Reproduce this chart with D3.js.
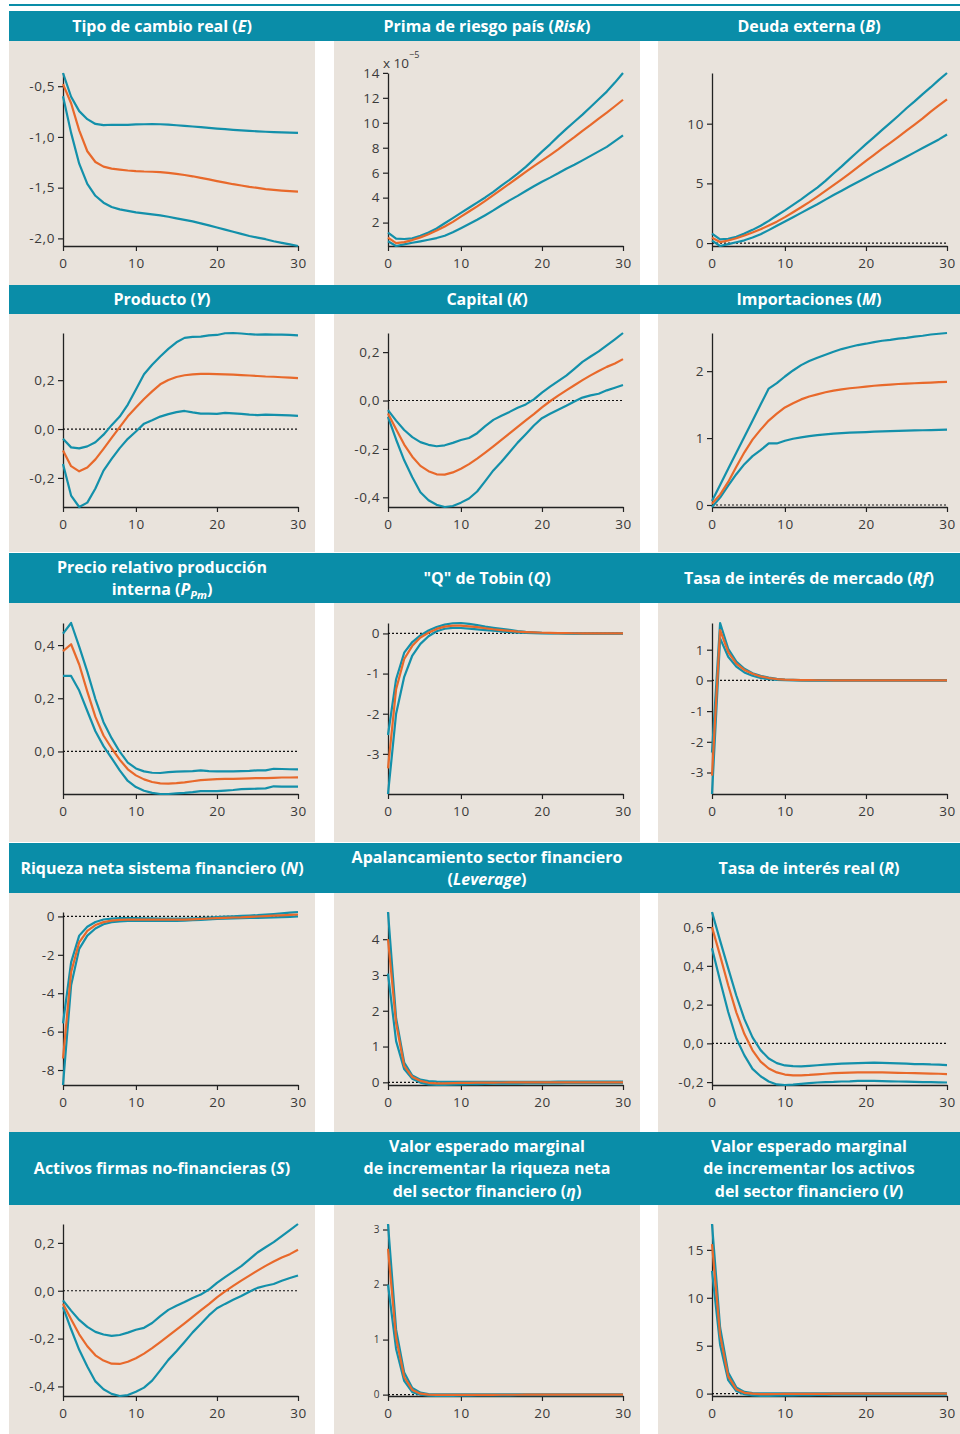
<!DOCTYPE html>
<html><head><meta charset="utf-8">
<script src="https://cdn.jsdelivr.net/npm/d3@7"></script>
<style>body{margin:0;background:#fff}svg{display:block}</style>
</head><body>
<svg id="chart" width="960" height="1434"></svg>
<script>
// Impulse responses for periods 1..30: lower band, median, upper band
const periods = d3.range(1, 31);
const xTicks = [1, 10, 20, 30];
const xTickLabels = ["0", "10", "20", "30"];

const E_hi = [-0.37,-0.604,-0.746,-0.825,-0.872,-0.884,-0.88,-0.882,-0.881,-0.877,-0.875,-0.874,-0.875,-0.879,-0.885,-0.891,-0.897,-0.904,-0.911,-0.918,-0.924,-0.93,-0.936,-0.941,-0.945,-0.949,-0.953,-0.956,-0.958,-0.96];
const E_mid = [-0.48,-0.668,-0.935,-1.141,-1.247,-1.293,-1.312,-1.322,-1.331,-1.337,-1.341,-1.343,-1.347,-1.354,-1.365,-1.375,-1.388,-1.404,-1.419,-1.435,-1.45,-1.466,-1.479,-1.492,-1.503,-1.514,-1.522,-1.529,-1.535,-1.54];
const E_lo = [-0.60,-0.96,-1.264,-1.462,-1.58,-1.648,-1.69,-1.714,-1.729,-1.743,-1.753,-1.764,-1.774,-1.787,-1.802,-1.818,-1.833,-1.852,-1.872,-1.893,-1.914,-1.934,-1.955,-1.976,-1.992,-2.008,-2.028,-2.044,-2.059,-2.075];
const E_ticks = [-2, -1.5, -1, -0.5];

const Risk_hi = [1.2,0.72,0.683,0.738,0.935,1.2,1.53,1.946,2.358,2.774,3.186,3.598,4.014,4.47,4.966,5.43,5.92,6.469,7.066,7.69,8.274,8.91,9.51,10.08,10.65,11.26,11.88,12.5,13.22,13.99];
const Risk_mid = [0.8,0.352,0.431,0.6,0.814,1.068,1.36,1.684,2.058,2.474,2.886,3.298,3.735,4.198,4.666,5.13,5.593,6.061,6.525,6.96,7.406,7.87,8.375,8.851,9.36,9.833,10.34,10.814,11.325,11.845];
const Risk_lo = [0.5,0.124,0.258,0.381,0.497,0.622,0.76,0.945,1.231,1.552,1.889,2.23,2.594,2.976,3.392,3.779,4.139,4.532,4.914,5.278,5.604,5.949,6.313,6.634,6.987,7.348,7.708,8.072,8.528,8.996];
const Risk_ticks = [2, 4, 6, 8, 10, 12, 14];

const B_hi = [0.8,0.302,0.36,0.525,0.792,1.106,1.454,1.858,2.308,2.74,3.203,3.667,4.155,4.648,5.212,5.83,6.424,7.048,7.666,8.29,8.874,9.476,10.063,10.668,11.292,11.868,12.478,13.056,13.67,14.245];
const B_mid = [0.45,0.084,0.213,0.402,0.635,0.893,1.16,1.472,1.795,2.174,2.586,2.998,3.435,3.898,4.366,4.855,5.343,5.84,6.355,6.875,7.39,7.905,8.388,8.89,9.41,9.925,10.44,11.006,11.525,12.045];
const B_lo = [0.2,-0.245,-0.09,0.065,0.231,0.463,0.736,1.084,1.445,1.809,2.169,2.53,2.894,3.254,3.642,4.029,4.389,4.753,5.114,5.478,5.838,6.163,6.513,6.873,7.237,7.598,7.958,8.322,8.683,9.096];
const B_ticks = [0, 5, 10];

const Y_hi = [-0.04,-0.075,-0.079,-0.071,-0.054,-0.023,0.016,0.051,0.1,0.162,0.224,0.263,0.297,0.328,0.355,0.373,0.377,0.378,0.383,0.385,0.392,0.393,0.391,0.388,0.386,0.387,0.386,0.386,0.385,0.383];
const Y_mid = [-0.088,-0.152,-0.173,-0.157,-0.124,-0.081,-0.036,0.008,0.052,0.088,0.123,0.154,0.183,0.201,0.213,0.22,0.224,0.226,0.226,0.225,0.224,0.223,0.221,0.219,0.217,0.215,0.214,0.212,0.21,0.208];
const Y_lo = [-0.143,-0.272,-0.319,-0.301,-0.243,-0.17,-0.122,-0.078,-0.04,-0.01,0.022,0.036,0.051,0.061,0.069,0.074,0.068,0.063,0.063,0.062,0.066,0.064,0.062,0.059,0.057,0.059,0.058,0.057,0.056,0.054];
const Y_ticks = [-0.2, 0, 0.2];

const K_hi = [-0.04,-0.083,-0.122,-0.151,-0.172,-0.183,-0.189,-0.185,-0.175,-0.163,-0.155,-0.135,-0.106,-0.08,-0.063,-0.047,-0.03,-0.016,0.005,0.033,0.057,0.08,0.103,0.131,0.16,0.182,0.203,0.228,0.253,0.279];
const K_mid = [-0.054,-0.119,-0.182,-0.232,-0.27,-0.292,-0.305,-0.306,-0.297,-0.282,-0.263,-0.24,-0.215,-0.189,-0.163,-0.136,-0.109,-0.082,-0.056,-0.028,-0.003,0.02,0.042,0.063,0.084,0.104,0.122,0.139,0.153,0.171];
const K_lo = [-0.068,-0.161,-0.247,-0.317,-0.379,-0.412,-0.431,-0.44,-0.436,-0.422,-0.405,-0.376,-0.333,-0.289,-0.253,-0.214,-0.174,-0.139,-0.103,-0.073,-0.055,-0.038,-0.022,-0.004,0.012,0.021,0.028,0.042,0.053,0.064];
const K_ticks = [-0.4, -0.2, 0, 0.2];

const M_hi = [0.06,0.30,0.54,0.78,1.02,1.26,1.5,1.74,1.82,1.92,2.01,2.09,2.15,2.2,2.245,2.29,2.33,2.36,2.39,2.41,2.434,2.454,2.468,2.486,2.498,2.517,2.529,2.548,2.559,2.57];
const M_mid = [0.02,0.155,0.345,0.571,0.787,0.976,1.126,1.261,1.364,1.458,1.52,1.578,1.622,1.653,1.684,1.71,1.728,1.744,1.756,1.77,1.782,1.792,1.799,1.808,1.814,1.819,1.824,1.829,1.835,1.84];
const M_lo = [-0.03,0.11,0.29,0.46,0.61,0.73,0.82,0.92,0.92,0.96,0.99,1.01,1.03,1.045,1.055,1.065,1.075,1.08,1.085,1.09,1.095,1.1,1.105,1.108,1.11,1.114,1.117,1.12,1.122,1.125];
const M_ticks = [0, 1, 2];

const P_hi = [0.443,0.483,0.394,0.3,0.197,0.11,0.05,-0.001,-0.042,-0.064,-0.075,-0.08,-0.081,-0.078,-0.076,-0.075,-0.074,-0.071,-0.074,-0.075,-0.075,-0.075,-0.074,-0.073,-0.071,-0.071,-0.065,-0.066,-0.067,-0.0675];
const P_mid = [0.3775,0.403,0.327,0.225,0.13,0.06,0.012,-0.031,-0.067,-0.09,-0.105,-0.115,-0.12,-0.121,-0.119,-0.116,-0.112,-0.108,-0.106,-0.104,-0.103,-0.103,-0.102,-0.101,-0.1,-0.1,-0.099,-0.098,-0.098,-0.0975];
const P_lo = [0.284,0.284,0.229,0.152,0.076,0.02,-0.025,-0.071,-0.111,-0.134,-0.148,-0.156,-0.16,-0.16,-0.158,-0.156,-0.153,-0.149,-0.149,-0.149,-0.147,-0.145,-0.142,-0.141,-0.14,-0.139,-0.131,-0.132,-0.1325,-0.1325];
const P_ticks = [0, 0.2, 0.4];

const Q_hi = [-2.53,-1.14,-0.48,-0.214,-0.049,0.074,0.162,0.22,0.254,0.26,0.24,0.205,0.168,0.139,0.113,0.087,0.061,0.04,0.025,0.012,0.009,0.007,0.005,0.004,0.003,0.003,0.002,0.002,0.002,0.002];
const Q_mid = [-3.36,-1.39,-0.637,-0.309,-0.103,0.017,0.113,0.171,0.193,0.194,0.175,0.156,0.13,0.104,0.083,0.065,0.047,0.034,0.024,0.017,0.012,0.009,0.007,0.005,0.004,0.003,0.002,0.002,0.001,0.001];
const Q_lo = [-4.0,-2.0,-1.08,-0.55,-0.26,-0.07,0.054,0.117,0.14,0.135,0.12,0.102,0.084,0.068,0.05,0.032,0.02,0.012,0.007,0.002,-0.001,-0.002,-0.003,-0.003,-0.003,-0.003,-0.003,-0.003,-0.003,-0.003];
const Q_ticks = [-3, -2, -1, 0];

const Rf_hi = [-2.35,1.87,1.03,0.61,0.38,0.235,0.148,0.089,0.048,0.027,0.018,0.013,0.011,0.01,0.01,0.01,0.01,0.01,0.01,0.01,0.01,0.01,0.01,0.01,0.01,0.01,0.01,0.01,0.01,0.01];
const Rf_mid = [-3.1,1.64,0.924,0.549,0.342,0.215,0.129,0.077,0.045,0.027,0.017,0.01,0.007,0.006,0.005,0.004,0.004,0.003,0.003,0.003,0.003,0.003,0.003,0.003,0.003,0.003,0.003,0.003,0.003,0.003];
const Rf_lo = [-3.7,1.37,0.77,0.45,0.26,0.15,0.08,0.039,0.017,0.007,-0.002,-0.006,-0.008,-0.008,-0.008,-0.008,-0.008,-0.008,-0.008,-0.008,-0.008,-0.008,-0.008,-0.008,-0.008,-0.008,-0.008,-0.008,-0.008,-0.008];
const Rf_ticks = [-3, -2, -1, 0, 1];

const N_hi = [-5.57,-2.39,-1.0,-0.535,-0.29,-0.16,-0.114,-0.09,-0.09,-0.093,-0.1,-0.104,-0.11,-0.11,-0.115,-0.115,-0.105,-0.088,-0.062,-0.037,-0.016,0.004,0.025,0.046,0.066,0.096,0.126,0.158,0.198,0.23];
const N_mid = [-7.4,-2.91,-1.35,-0.75,-0.45,-0.296,-0.222,-0.185,-0.17,-0.17,-0.17,-0.17,-0.17,-0.17,-0.17,-0.165,-0.149,-0.128,-0.108,-0.093,-0.076,-0.056,-0.048,-0.024,-0.004,0.017,0.038,0.058,0.079,0.1];
const N_lo = [-8.78,-3.59,-1.69,-1.0,-0.63,-0.41,-0.3,-0.255,-0.237,-0.23,-0.23,-0.23,-0.23,-0.23,-0.23,-0.22,-0.199,-0.178,-0.152,-0.127,-0.113,-0.103,-0.093,-0.082,-0.072,-0.062,-0.051,-0.032,-0.021,0.0];
const N_ticks = [-8, -6, -4, -2, 0];

const Lev_hi = [4.76,1.79,0.553,0.188,0.074,0.037,0.019,0.015,0.012,0.01,0.01,0.01,0.01,0.011,0.012,0.012,0.013,0.014,0.015,0.015,0.016,0.017,0.017,0.018,0.018,0.019,0.019,0.02,0.02,0.02];
const Lev_mid = [4.0,1.65,0.458,0.149,0.042,-0.013,-0.03,-0.029,-0.024,-0.018,-0.013,-0.009,-0.007,-0.006,-0.005,-0.004,-0.003,-0.002,-0.002,-0.001,0.0,0.0,0.0,0.0,0.0,0.0,0.0,0.0,0.0,0.0];
const Lev_lo = [3.04,1.15,0.37,0.099,-0.008,-0.058,-0.075,-0.073,-0.064,-0.058,-0.053,-0.048,-0.043,-0.04,-0.04,-0.037,-0.035,-0.032,-0.03,-0.03,-0.029,-0.027,-0.025,-0.024,-0.023,-0.022,-0.021,-0.02,-0.02,-0.02];
const Lev_ticks = [0, 1, 2, 3, 4];

const R_hi = [0.678,0.53,0.387,0.247,0.125,0.031,-0.035,-0.078,-0.102,-0.114,-0.118,-0.119,-0.116,-0.113,-0.11,-0.107,-0.105,-0.103,-0.102,-0.101,-0.1,-0.101,-0.102,-0.103,-0.105,-0.107,-0.107,-0.109,-0.11,-0.112];
const R_mid = [0.6,0.453,0.3,0.16,0.048,-0.036,-0.094,-0.13,-0.15,-0.161,-0.165,-0.165,-0.163,-0.16,-0.157,-0.154,-0.152,-0.151,-0.15,-0.15,-0.15,-0.15,-0.151,-0.152,-0.153,-0.154,-0.155,-0.156,-0.157,-0.159];
const R_lo = [0.491,0.323,0.162,0.025,-0.062,-0.132,-0.17,-0.197,-0.212,-0.215,-0.213,-0.209,-0.205,-0.202,-0.2,-0.199,-0.197,-0.196,-0.194,-0.193,-0.194,-0.195,-0.196,-0.197,-0.198,-0.199,-0.2,-0.2,-0.201,-0.202];
const R_ticks = [-0.2, 0, 0.2, 0.4, 0.6];

const S_hi = [-0.04,-0.083,-0.122,-0.151,-0.172,-0.183,-0.189,-0.185,-0.175,-0.163,-0.155,-0.135,-0.106,-0.08,-0.063,-0.047,-0.03,-0.016,0.005,0.033,0.057,0.08,0.103,0.131,0.16,0.182,0.203,0.228,0.253,0.279];
const S_mid = [-0.054,-0.119,-0.182,-0.232,-0.27,-0.292,-0.305,-0.306,-0.297,-0.282,-0.263,-0.24,-0.215,-0.189,-0.163,-0.136,-0.109,-0.082,-0.056,-0.028,-0.003,0.02,0.042,0.063,0.084,0.104,0.122,0.139,0.153,0.171];
const S_lo = [-0.068,-0.161,-0.247,-0.317,-0.379,-0.412,-0.431,-0.44,-0.436,-0.422,-0.405,-0.376,-0.333,-0.289,-0.253,-0.214,-0.174,-0.139,-0.103,-0.073,-0.055,-0.038,-0.022,-0.004,0.012,0.021,0.028,0.042,0.053,0.064];
const S_ticks = [-0.4, -0.2, 0, 0.2];

const Eta_hi = [3.1,1.18,0.4,0.12,0.035,0.01,0.005,0.005,0.005,0.005,0.005,0.005,0.005,0.005,0.005,0.005,0.005,0.005,0.005,0.005,0.005,0.005,0.005,0.005,0.005,0.005,0.005,0.005,0.005,0.005];
const Eta_mid = [2.65,1.03,0.32,0.085,0.018,0.0,-0.005,-0.005,-0.005,-0.005,-0.004,-0.004,-0.003,-0.003,-0.002,-0.002,-0.002,-0.001,-0.001,0.0,0.0,0.0,0.0,0.0,0.0,0.0,0.0,0.0,0.0,0.0];
const Eta_lo = [2.0,0.83,0.25,0.045,-0.002,-0.02,-0.025,-0.025,-0.022,-0.02,-0.018,-0.016,-0.015,-0.014,-0.013,-0.012,-0.011,-0.01,-0.01,-0.01,-0.01,-0.01,-0.01,-0.01,-0.01,-0.01,-0.01,-0.01,-0.01,-0.01];
const Eta_ticks = [0, 1, 2, 3];

const V_hi = [17.7,6.9,2.2,0.65,0.18,0.06,0.03,0.02,0.02,0.02,0.02,0.02,0.02,0.02,0.02,0.02,0.02,0.02,0.02,0.02,0.02,0.02,0.02,0.02,0.02,0.02,0.02,0.02,0.02,0.02];
const V_mid = [15.6,6.1,1.8,0.46,0.08,-0.01,-0.05,-0.05,-0.04,-0.03,-0.03,-0.02,-0.02,-0.02,-0.02,-0.01,-0.01,-0.01,-0.01,0.0,0.0,0.0,0.0,0.0,0.0,0.0,0.0,0.0,0.0,0.0];
const V_lo = [12.8,5.1,1.4,0.27,-0.07,-0.2,-0.25,-0.25,-0.22,-0.2,-0.18,-0.16,-0.15,-0.14,-0.13,-0.12,-0.11,-0.1,-0.1,-0.1,-0.1,-0.1,-0.1,-0.1,-0.1,-0.1,-0.1,-0.1,-0.1,-0.1];
const V_ticks = [0, 5, 10, 15];

// Panel titles: *...* italic, _..._ subscript; one string per line
const panels = [
  { title: ["Tipo de cambio real (*E*)"], hi: E_hi, mid: E_mid, lo: E_lo, ticks: E_ticks, fmt: ".1f" },
  { title: ["Prima de riesgo país (*Risk*)"], hi: Risk_hi, mid: Risk_mid, lo: Risk_lo, ticks: Risk_ticks, fmt: "d", scaleNote: true },
  { title: ["Deuda externa (*B*)"], hi: B_hi, mid: B_mid, lo: B_lo, ticks: B_ticks, fmt: "d" },
  { title: ["Producto (*Y*)"], hi: Y_hi, mid: Y_mid, lo: Y_lo, ticks: Y_ticks, fmt: ".1f" },
  { title: ["Capital (*K*)"], hi: K_hi, mid: K_mid, lo: K_lo, ticks: K_ticks, fmt: ".1f" },
  { title: ["Importaciones (*M*)"], hi: M_hi, mid: M_mid, lo: M_lo, ticks: M_ticks, fmt: "d" },
  { title: ["Precio relativo producción", "interna (*P_Pm_*)"], hi: P_hi, mid: P_mid, lo: P_lo, ticks: P_ticks, fmt: ".1f" },
  { title: ["\"Q\" de Tobin (*Q*)"], hi: Q_hi, mid: Q_mid, lo: Q_lo, ticks: Q_ticks, fmt: "d" },
  { title: ["Tasa de interés de mercado (*Rf*)"], hi: Rf_hi, mid: Rf_mid, lo: Rf_lo, ticks: Rf_ticks, fmt: "d" },
  { title: ["Riqueza neta sistema financiero (*N*)"], hi: N_hi, mid: N_mid, lo: N_lo, ticks: N_ticks, fmt: "d" },
  { title: ["Apalancamiento sector financiero", "(*Leverage*)"], hi: Lev_hi, mid: Lev_mid, lo: Lev_lo, ticks: Lev_ticks, fmt: "d" },
  { title: ["Tasa de interés real (*R*)"], hi: R_hi, mid: R_mid, lo: R_lo, ticks: R_ticks, fmt: ".1f" },
  { title: ["Activos firmas no-financieras (*S*)"], hi: S_hi, mid: S_mid, lo: S_lo, ticks: S_ticks, fmt: ".1f" },
  { title: ["Valor esperado marginal", "de incrementar la riqueza neta", "del sector financiero (*η*)"], hi: Eta_hi, mid: Eta_mid, lo: Eta_lo, ticks: Eta_ticks, fmt: "d", smallTicks: true },
  { title: ["Valor esperado marginal", "de incrementar los activos", "del sector financiero (*V*)"], hi: V_hi, mid: V_mid, lo: V_lo, ticks: V_ticks, fmt: "d" }
];

// Page geometry
const TEAL = "#0a8da8", LINE_TEAL = "#1390aa", ORANGE = "#e8692b", BEIGE = "#e9e3dc";
const cols = [ { l: 9, r: 315 }, { l: 334, r: 640 }, { l: 658, r: 960 } ];
const rows = [
  { hT: 11, hB: 41, pB: 285, aT: 73, aB: 246 },
  { hT: 285, hB: 314, pB: 552, aT: 333, aB: 507 },
  { hT: 553, hB: 603, pB: 842, aT: 623, aB: 794 },
  { hT: 843, hB: 893, pB: 1132, aT: 912, aB: 1085 },
  { hT: 1132, hB: 1205, pB: 1434, aT: 1224, aB: 1396 }
];
const AX_OFF = 54, AX_W = 235;
const FONT = "'Open Sans', sans-serif";

const locale = d3.formatLocale({ decimal: ",", thousands: ".", grouping: [3], currency: ["", ""], minus: "-" });

const svg = d3.select("#chart");
svg.append("rect").attr("x", 9).attr("y", 4).attr("width", 951).attr("height", 2).attr("fill", TEAL);

function addTitle(g, lines, cx, cy) {
  const lh = 22.5, n = lines.length;
  lines.forEach((line, i) => {
    const t = g.append("text")
      .attr("x", cx).attr("y", cy + (i - (n - 1) / 2) * lh)
      .attr("dy", "0.36em").attr("text-anchor", "middle")
      .attr("fill", "#fff").attr("font-family", FONT)
      .attr("font-weight", 700).attr("font-size", 16);
    let italic = false, sub = false, buf = "", shifted = 0;
    const flush = () => {
      if (!buf) return;
      const ts = t.append("tspan").text(buf);
      if (italic) ts.attr("font-style", "italic");
      if (sub && shifted === 0) { ts.attr("font-size", 11).attr("dy", 4); shifted = 4; }
      else if (sub) ts.attr("font-size", 11);
      else if (shifted) { ts.attr("dy", -shifted); shifted = 0; }
      buf = "";
    };
    for (const ch of line) {
      if (ch === "*") { flush(); italic = !italic; }
      else if (ch === "_") { flush(); sub = !sub; }
      else buf += ch;
    }
    flush();
  });
}

function styleAxis(a, size) {
  a.select(".domain").attr("stroke", "#222").attr("stroke-width", 1.3);
  a.selectAll(".tick line").attr("stroke", "#222").attr("stroke-width", 1.2);
  a.selectAll(".tick text").attr("fill", "#3a3a3a").attr("font-size", size)
    .attr("font-family", FONT).attr("letter-spacing", 0.6);
}

panels.forEach((p, i) => {
  const row = rows[Math.floor(i / 3)], col = cols[i % 3];
  const g = svg.append("g");
  // header band spans the full row width
  if (i % 3 === 0) {
    svg.insert("rect", ":first-child").attr("x", 9).attr("y", row.hT)
      .attr("width", 951).attr("height", row.hB - row.hT).attr("fill", TEAL);
  }
  g.append("rect").attr("x", col.l).attr("y", row.hB)
    .attr("width", col.r - col.l).attr("height", row.pB - row.hB).attr("fill", BEIGE);
  addTitle(g, p.title, (col.l + col.r) / 2, (row.hT + row.hB) / 2);

  const x0 = col.l + AX_OFF;
  const x = d3.scaleLinear().domain([1, 30]).range([x0, x0 + AX_W]);
  const all = p.hi.concat(p.mid, p.lo);
  const y = d3.scaleLinear().domain(d3.extent(all)).range([row.aB, row.aT]);

  const yAxis = g.append("g").attr("transform", `translate(${x0},0)`)
    .call(d3.axisLeft(y).tickValues(p.ticks).tickSize(5).tickSizeOuter(0).tickPadding(3)
      .tickFormat(locale.format(p.fmt)));
  const xAxis = g.append("g").attr("transform", `translate(0,${row.aB})`)
    .call(d3.axisBottom(x).tickValues(xTicks).tickSize(5).tickSizeOuter(0).tickPadding(7)
      .tickFormat((d, k) => xTickLabels[k]));
  styleAxis(yAxis, p.smallTicks ? 10 : 13.5);
  styleAxis(xAxis, 13.5);

  const [lo, hi] = y.domain();
  if (lo <= 0 && hi >= 0) {
    g.append("line").attr("x1", x(1)).attr("x2", x(30)).attr("y1", y(0)).attr("y2", y(0))
      .attr("stroke", "#111").attr("stroke-width", 1.2).attr("stroke-dasharray", "2,2");
  }

  if (p.scaleNote) {
    const note = g.append("text").attr("x", x0 - 5).attr("y", row.aT - 5)
      .attr("font-family", FONT).attr("font-size", 13.5).attr("fill", "#3a3a3a");
    note.append("tspan").text("x 10");
    note.append("tspan").text("−5").attr("font-size", 9).attr("dy", -10);
  }

  const line = d3.line().x((d, k) => x(periods[k])).y(d => y(d));
  [p.hi, p.lo].forEach(s => g.append("path").attr("d", line(s)).attr("fill", "none")
    .attr("stroke", LINE_TEAL).attr("stroke-width", 2.2).attr("stroke-linejoin", "round"));
  g.append("path").attr("d", line(p.mid)).attr("fill", "none")
    .attr("stroke", ORANGE).attr("stroke-width", 2.2).attr("stroke-linejoin", "round");
});
</script>
</body></html>
